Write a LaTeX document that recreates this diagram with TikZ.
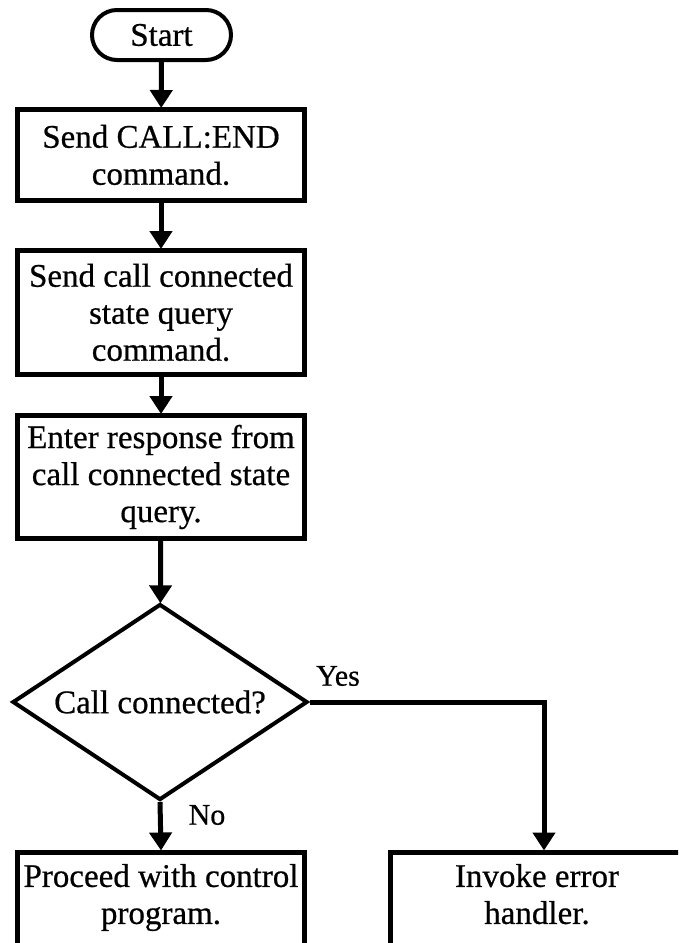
\documentclass[tikz,border=0pt]{standalone}
\usepackage{fontspec}
\setmainfont{Liberation Serif}[FakeBold=0.6]
\usetikzlibrary{shapes.geometric,arrows.meta,calc}
\begin{document}
\begin{tikzpicture}[x=1pt,y=-1pt,
  every node/.style={font=\fontsize{33}{37}\selectfont},
  term/.style={draw, line width=4pt, rounded corners=25pt, minimum width=139pt, minimum height=50pt, inner sep=0pt},
  proc/.style={draw, line width=5pt, minimum width=287pt, inner sep=0pt, align=center},
  dec/.style={draw, diamond, aspect=1.5, line width=4pt, minimum width=295pt, minimum height=196pt, inner sep=0pt},
  lbl/.style={font=\fontsize{30}{34}\selectfont, inner sep=0pt},
  arr/.style={line width=5pt, -{Triangle[width=22pt,length=18pt]}, shorten >=-1pt}
]
\useasboundingbox (0,0) rectangle (678,943);
\clip (0,0) rectangle (678,943);
\node[term] (start) at (161.5,35) {Start};
\node[proc, minimum height=91pt] (b1) at (161,155) {Send CALL:END\\command.};
\node[proc, minimum height=124pt] (b2) at (161,312.5) {Send call connected\\state query\\command.};
\node[proc, minimum height=123pt] (b3) at (161,477) {Enter response from\\call connected state\\query.};
\node[dec] (d) at (160,702) {Call connected?};
\node[proc, anchor=north, inner ysep=12pt, text depth=80pt] (p) at (161,849.5) {Proceed with control\\program.};
\node[proc, anchor=north, minimum width=293pt, inner ysep=12pt, text depth=80pt] (r) at (537,849.5) {Invoke error\\handler.};
\coordinate (yx) at (544,0);
\node[lbl] (yes) at (338,676) {Yes};
\node[lbl] (no) at (207,815) {No};
\draw[arr] (start) -- (b1);
\draw[arr] (b1) -- (b2);
\draw[arr] (b2) -- (b3);
\draw[arr] (b3) -- (d);
\draw[arr] (d.south) -- (p.north);
\draw[arr] (d.east) -| (r.north -| yx);
\end{tikzpicture}
\end{document}
